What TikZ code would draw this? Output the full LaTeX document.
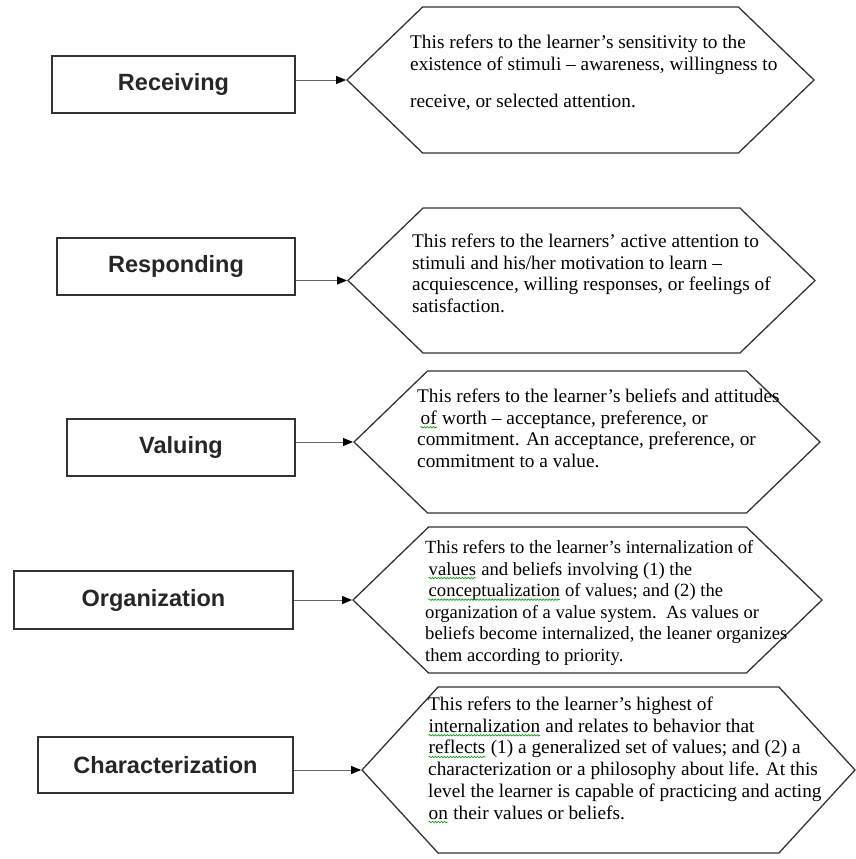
\documentclass[tikz,border=0pt]{standalone}
\usepackage{fontspec}
\setmainfont{Liberation Serif}
\newfontfamily\labelfont{Liberation Sans}
\usepackage{tikz}
\usetikzlibrary{arrows.meta, shapes.symbols, decorations.pathmorphing}

% green wavy underline under a word
\newcommand{\spellmark}[1]{\tikz[baseline=(sw.base)]{\node[shape=rectangle, draw=none, inner sep=0pt, anchor=base] (sw) {#1};
  \draw[green!60!black, line width=0.6pt, decorate, decoration={snake, amplitude=0.8pt, segment length=3pt}] ([yshift=-3pt]sw.base west) -- ([yshift=-3pt]sw.base east);}}

\begin{document}
\begin{tikzpicture}[x=1pt, y=-1pt,
  level/.style={draw=black!80, line width=1.4pt, minimum height=57pt, inner sep=0pt,
    font=\labelfont\bfseries\fontsize{23.5}{28}\selectfont, text=black!85},
  hexa/.style={draw=black!80, line width=1.3pt, shape=signal, signal to=east and west,
    signal pointer angle=88, minimum height=146pt, inner sep=0pt},
  desc/.style={anchor=north west, inner sep=0pt, align=left,
    font=\fontsize{19.3}{21.7}\selectfont, text=black},
  link/.style={draw=black!60, line width=1pt, -{Triangle[length=10pt, width=8pt, color=black]}}]

\useasboundingbox (0,0) rectangle (856,859);

% Level boxes
\node[level, minimum width=243pt] (b1) at (173.5,84.5) {Receiving};
\node[level, minimum width=238pt] (b2) at (176,266.5) {Responding};
\node[level, minimum width=228pt] (b3) at (181,447.5) {Valuing};
\node[level, minimum width=279pt, minimum height=58pt] (b4) at (153.5,600) {Organization};
\node[level, minimum width=255pt, minimum height=56pt] (b5) at (165.5,765) {Characterization};

% Description hexagons
\node[hexa, minimum width=467pt] (h1) at (580.5,80) {};
\node[hexa, minimum width=467pt, minimum height=145pt] (h2) at (581.5,280.5) {};
\node[hexa, minimum width=466pt, minimum height=142pt] (h3) at (587,442) {};
\node[hexa, minimum width=469pt] (h4) at (587.5,600) {};
\node[hexa, minimum width=493pt, minimum height=166pt, signal pointer angle=95] (h5) at (608.5,770) {};

% Arrows
\draw[link] (h1.west -| b1.east) -- (h1.west);
\draw[link] (h2.west -| b2.east) -- (h2.west);
\draw[link] (h3.west -| b3.east) -- (h3.west);
\draw[link] (h4.west -| b4.east) -- (h4.west);
\draw[link] (h5.west -| b5.east) -- (h5.west);

% Descriptions
\node[desc] (t1) at (410,34.8) {This refers to the learner’s sensitivity to the\\
  existence of stimuli – awareness, willingness to\\[16pt]
  receive, or selected attention.};
\node[desc] (t2) at (412,233.8) {This refers to the learners’ active attention to\\
  stimuli and his/her motivation to learn –\\
  acquiescence, willing responses, or feelings of\\
  satisfaction.};
\node[desc] (t3) at (417,388.8) {This refers to the learner’s beliefs and attitudes\\
  \hspace*{3pt}\spellmark{of} worth – acceptance, preference, or\\
  commitment. An acceptance, preference, or\\
  commitment to a value.};
\node[desc, font=\fontsize{18.6}{21.6}\selectfont] (t4) at (425,540.2) {This refers to the learner’s internalization of\\
  \hspace*{3pt}\spellmark{values} and beliefs involving (1) the\\
  \hspace*{3pt}\spellmark{conceptualization} of values; and (2) the\\
  organization of a value system.\ \ As values or\\
  beliefs become internalized, the leaner organizes\\
  them according to priority.};
\node[desc] (t5) at (428,696.8) {This refers to the learner’s highest of\\
  \spellmark{internalization} and relates to behavior that\\
  \spellmark{reflects} (1) a generalized set of values; and (2) a\\
  characterization or a philosophy about life. At this\\
  level the learner is capable of practicing and acting\\
  \spellmark{on} their values or beliefs.};

\end{tikzpicture}
\end{document}
